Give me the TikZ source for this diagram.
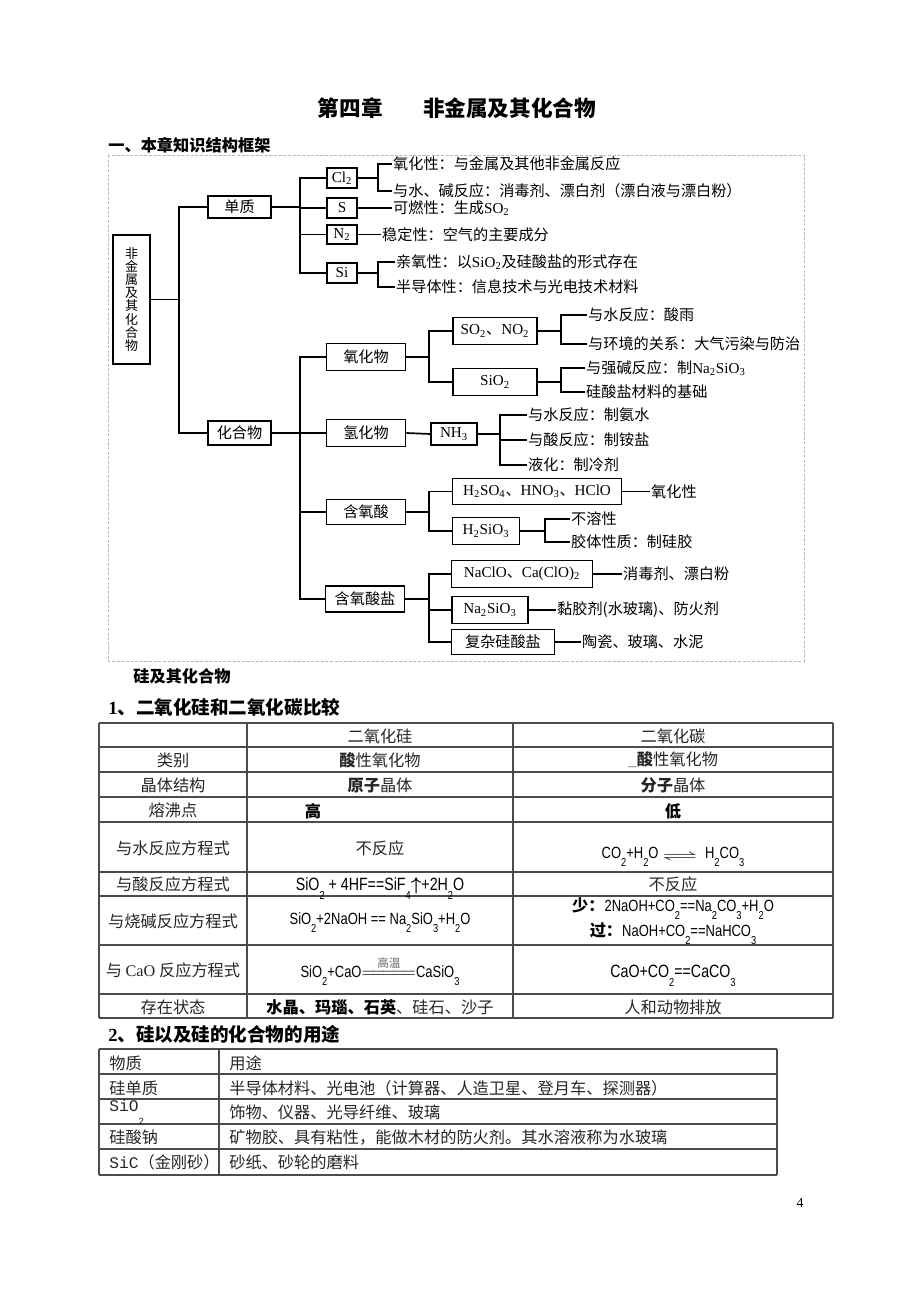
\documentclass[tikz,border=0pt]{standalone}
\usepackage{amsmath,amssymb}
\usepackage{fontspec}
\setmainfont{Liberation Serif}
\newfontfamily\cjk{Noto Sans CJK SC}
\newfontfamily\eqf{Liberation Sans}[FakeStretch=0.8]
\newfontfamily\monof{Liberation Mono}
\usetikzlibrary{calc}

\newcommand\px{0.64704pt}
\newcommand\tfont{\cjk\fontsize{9.8pt}{11pt}\selectfont}
\newcommand\rootfont{\cjk\fontsize{8.4pt}{8.5pt}\selectfont}
\newcommand\tabfont{\cjk\fontsize{10.5pt}{12pt}\selectfont}
\newcommand\lat[1]{{\rmfamily #1}}
\newcommand\subs[1]{\textsubscript{#1}}
\newcommand\dn[1]{\raisebox{-1.0ex}{\fontsize{7.5pt}{8pt}\selectfont #1}}

\tikzset{
  tbox/.style={draw, line width=1.1pt, inner sep=0pt, font=\tfont},
  leaf/.style={anchor=west, inner sep=0.6pt, font=\tfont},
  tline/.style={line width=1.1pt},
  frame/.style={gray!55, line width=0.6pt, dash pattern=on 2pt off 1pt},
  grid/.style={line width=0.85pt, black!70},
  cell/.style={inner sep=0pt, font=\tabfont, text=black!85},
  lcell/.style={cell, anchor=west},
  eq/.style={anchor=base, inner sep=0pt, font=\eqf\fontsize{10.5pt}{12pt}\selectfont},
  bigeq/.style={eq, font=\eqf\fontsize{11.5pt}{13pt}\selectfont},
}

\begin{document}
\begin{tikzpicture}[x=0.64704pt, y=-0.64704pt]

  \useasboundingbox (0,0) rectangle (920,1302);

  \newcommand\XA{179};
  \newcommand\XB{300};
  \newcommand\XC{429};

  \coordinate (trA) at (\XA,0);
  \coordinate (trB) at (\XB,0);
  \coordinate (trC) at (\XC,0);
  \coordinate (brA) at (378,0);
  \coordinate (brB) at (561,0);
  \coordinate (brC) at (500,0);
  \coordinate (brD) at (545,0);

  % headings
  \node[inner sep=0pt, font=\cjk\bfseries\fontsize{14pt}{16pt}\selectfont] (title) at (457,108)
    {第四章\hspace{26pt}非金属及其化合物};
  \node[anchor=west, inner sep=0pt, font=\cjk\bfseries\fontsize{10.5pt}{12pt}\selectfont] (secA) at (108,145)
    {一、本章知识结构框架};

  \draw[frame] (108,155) rectangle (804,661);

  % knowledge tree
  \node[tbox, minimum width=37*\px, minimum height=129*\px, align=center, font=\rootfont] (root) at (131.5,299.5)
    {非\\金\\属\\及\\其\\化\\合\\物};
  \node[tbox, minimum width=63*\px, minimum height=22*\px] (danzhi) at (239.5,207) {单质};
  \node[tbox, minimum width=63*\px, minimum height=24*\px] (huahewu) at (239.5,433) {化合物};

  \draw[tline] (root.east) -- (root.east -| trA) |- (danzhi.west);
  \draw[tline] (root.east) -- (root.east -| trA) |- (huahewu.west);

  \node[tbox, minimum width=30*\px, minimum height=20*\px] (cl2) at (342,178) {\lat{Cl\subs{2}}};
  \node[tbox, minimum width=30*\px, minimum height=20*\px] (s) at (342,208) {\lat{S}};
  \node[tbox, minimum width=30*\px, minimum height=19*\px] (n2) at (342,234.5) {\lat{N\subs{2}}};
  \node[tbox, minimum width=30*\px, minimum height=20*\px] (si) at (342,273) {\lat{Si}};

  \foreach \c in {cl2,s,n2,si}
    \draw[tline] (danzhi.east) -- (danzhi.east -| trB) |- (\c.west);

  \node[leaf] (l1) at (392,164) {氧化性：与金属及其他非金属反应};
  \node[leaf] (l2) at (392,191) {与水、碱反应：消毒剂、漂白剂（漂白液与漂白粉）};
  \node[leaf] (l3) at (392,208) {可燃性：生成\lat{SO\subs{2}}};
  \node[leaf] (l4) at (381,234.5) {稳定性：空气的主要成分};
  \node[leaf] (l5) at (395,262) {亲氧性：以\lat{SiO\subs{2}}及硅酸盐的形式存在};
  \node[leaf] (l6) at (395,287) {半导体性：信息技术与光电技术材料};

  \draw[tline] (cl2.east) -- (cl2.east -| brA) |- (l1.west);
  \draw[tline] (cl2.east) -- (cl2.east -| brA) |- (l2.west);
  \draw[tline] (s.east) -- (l3.west);
  \draw[tline] (n2.east) -- (l4.west);
  \draw[tline] (si.east) -- (si.east -| brA) |- (l5.west);
  \draw[tline] (si.east) -- (si.east -| brA) |- (l6.west);

  \node[tbox, minimum width=79*\px, minimum height=27*\px] (oxide) at (366,357) {氧化物};
  \node[tbox, minimum width=79*\px, minimum height=27*\px] (hydride) at (366,433) {氢化物};
  \node[tbox, minimum width=79*\px, minimum height=25*\px] (oxacid) at (366,512) {含氧酸};
  \node[tbox, minimum width=79*\px, minimum height=26*\px] (oxsalt) at (365,599) {含氧酸盐};

  \foreach \c in {oxide,hydride,oxacid,oxsalt}
    \draw[tline] (huahewu.east) -- (huahewu.east -| trB) |- (\c.west);

  \node[tbox, minimum width=84*\px, minimum height=27*\px] (so2) at (495,331) {\lat{SO\subs{2}}、\lat{NO\subs{2}}};
  \node[tbox, minimum width=84*\px, minimum height=27*\px] (sio2) at (495,382) {\lat{SiO\subs{2}}};
  \node[tbox, minimum width=46*\px, minimum height=22*\px] (nh3) at (454,434) {\lat{NH\subs{3}}};
  \node[tbox, minimum width=169*\px, minimum height=26*\px] (h2so4) at (537,491.5)
    {\lat{H\subs{2}SO\subs{4}}、\lat{HNO\subs{3}}、\lat{HClO}};
  \node[tbox, minimum width=67*\px, minimum height=27*\px] (h2sio3) at (486,531) {\lat{H\subs{2}SiO\subs{3}}};
  \node[tbox, minimum width=141*\px, minimum height=27*\px] (naclo) at (522,574) {\lat{NaClO}、\lat{Ca(ClO)\subs{2}}};
  \node[tbox, minimum width=76*\px, minimum height=27*\px] (na2sio3) at (490,610) {\lat{Na\subs{2}SiO\subs{3}}};
  \node[tbox, minimum width=103*\px, minimum height=25*\px] (fuza) at (503,642) {复杂硅酸盐};

  \draw[tline] (oxide.east) -- (oxide.east -| trC) |- (so2.west);
  \draw[tline] (oxide.east) -- (oxide.east -| trC) |- (sio2.west);
  \draw[tline] (hydride.east) -- (nh3.west);
  \draw[tline] (oxacid.east) -- (oxacid.east -| trC) |- (h2so4.west);
  \draw[tline] (oxacid.east) -- (oxacid.east -| trC) |- (h2sio3.west);
  \foreach \c in {naclo,na2sio3,fuza}
    \draw[tline] (oxsalt.east) -- (oxsalt.east -| trC) |- (\c.west);

  \node[leaf] (m1) at (587,315) {与水反应：酸雨};
  \node[leaf] (m2) at (587,344) {与环境的关系：大气污染与防治};
  \node[leaf] (m3) at (585,368) {与强碱反应：制\lat{Na\subs{2}SiO\subs{3}}};
  \node[leaf] (m4) at (585,392) {硅酸盐材料的基础};
  \node[leaf] (n1) at (527,415) {与水反应：制氨水};
  \node[leaf] (n2t) at (527,440) {与酸反应：制铵盐};
  \node[leaf] (n3) at (527,465) {液化：制冷剂};
  \node[leaf] (o1) at (650,491.5) {氧化性};
  \node[leaf] (o2) at (570,519) {不溶性};
  \node[leaf] (o3) at (570,542) {胶体性质：制硅胶};
  \node[leaf] (p1) at (622,574) {消毒剂、漂白粉};
  \node[leaf] (p2) at (556,610) {黏胶剂(水玻璃)、防火剂};
  \node[leaf] (p3) at (581,642) {陶瓷、玻璃、水泥};

  \draw[tline] (so2.east) -- (so2.east -| brB) |- (m1.west);
  \draw[tline] (so2.east) -- (so2.east -| brB) |- (m2.west);
  \draw[tline] (sio2.east) -- (sio2.east -| brB) |- (m3.west);
  \draw[tline] (sio2.east) -- (sio2.east -| brB) |- (m4.west);
  \foreach \c in {n1,n2t,n3}
    \draw[tline] (nh3.east) -- (nh3.east -| brC) |- (\c.west);
  \draw[tline] (h2so4.east) -- (o1.west);
  \draw[tline] (h2sio3.east) -- (h2sio3.east -| brD) |- (o2.west);
  \draw[tline] (h2sio3.east) -- (h2sio3.east -| brD) |- (o3.west);
  \draw[tline] (naclo.east) -- (p1.west);
  \draw[tline] (na2sio3.east) -- (p2.west);
  \draw[tline] (fuza.east) -- (p3.west);

  % silicon section
  \node[anchor=west, inner sep=0pt, font=\cjk\bfseries\fontsize{10.5pt}{12pt}\selectfont] (secB) at (133,676)
    {硅及其化合物};
  \node[anchor=west, inner sep=0pt, font=\cjk\bfseries\fontsize{12pt}{14pt}\selectfont] (secC) at (108,707)
    {\lat{\bfseries 1}、二氧化硅和二氧化碳比较};

  \foreach \y in {723,747,772,797,822,872,896,945,994,1018}
    \draw[grid] (99,\y) -- (833,\y);
  \foreach \x in {99,247,513,833}
    \draw[grid] (\x,723) -- (\x,1018);

  \node[cell] (h2) at (380,736) {二氧化硅};
  \node[cell] (h3) at (673,736) {二氧化碳};
  \node[cell] (a1) at (173,760) {类别};
  \node[cell] (a2) at (380,760) {{\bfseries 酸}性氧化物};
  \node[cell] (a3) at (673,760) {\textcolor{black!45}{\_}{\bfseries 酸}性氧化物};
  \node[cell] (b1) at (173,785) {晶体结构};
  \node[cell] (b2) at (380,785) {{\bfseries 原子}晶体};
  \node[cell] (b3) at (673,785) {{\bfseries 分子}晶体};
  \node[cell] (c1) at (173,810) {熔沸点};
  \node[cell, text=black] (c2) at (313,811) {\bfseries 高};
  \node[cell, text=black] (c3) at (673,811) {\bfseries 低};
  \node[cell] (d1) at (173,848) {与水反应方程式};
  \node[cell] (d2) at (380,848) {不反应};
  \node[eq] (d3) at (673,858) {CO\dn{2}+H\dn{2}O \raisebox{-0.3ex}{\scalebox{2.2}[1]{$\rightleftharpoons$}}\ \ H\dn{2}CO\dn{3}};
  \node[cell] (e1) at (173,884) {与酸反应方程式};
  \node[bigeq] (e2) at (380,890) {SiO\dn{2} + 4HF==SiF\dn{4}$\boldsymbol{\uparrow}$+2H\dn{2}O};
  \node[cell] (e3) at (673,884) {不反应};
  \node[cell] (f1) at (173,921) {与烧碱反应方程式};
  \node[eq] (f2) at (380,924) {SiO\dn{2}+2NaOH == Na\dn{2}SiO\dn{3}+H\dn{2}O};
  \node[eq] (f3) at (673,911) {{\cjk\bfseries 少：}2NaOH+CO\dn{2}==Na\dn{2}CO\dn{3}+H\dn{2}O};
  \node[eq] (f4) at (673,936) {{\cjk\bfseries 过：}NaOH+CO\dn{2}==NaHCO\dn{3}};
  \node[cell] (g1) at (173,970) {与 \lat{CaO} 反应方程式};
  \node[eq] (g2) at (380,977)
    {SiO\dn{2}+CaO$\overset{\mbox{\cjk\fontsize{7.5pt}{8pt}\selectfont\color{black!60}高温}}{=\joinrel=\joinrel=\joinrel=\joinrel=}$CaSiO\dn{3}};
  \node[bigeq] (g3) at (673,977) {CaO+CO\dn{2}==CaCO\dn{3}};
  \node[cell] (k1) at (173,1007) {存在状态};
  \node[cell] (k2) at (380,1007) {{\bfseries\color{black} 水晶、玛瑙、石英}、硅石、沙子};
  \node[cell] (k3) at (673,1007) {人和动物排放};

  \node[anchor=west, inner sep=0pt, font=\cjk\bfseries\fontsize{12pt}{14pt}\selectfont] (secD) at (108,1034)
    {\lat{\bfseries 2}、硅以及硅的化合物的用途};

  \foreach \y in {1049,1074,1099,1124,1149,1175}
    \draw[grid] (99,\y) -- (777,\y);
  \foreach \x in {99,219,777}
    \draw[grid] (\x,1049) -- (\x,1175);

  \node[lcell] (u1) at (109,1063) {物质};
  \node[lcell] (u2) at (229,1063) {用途};
  \node[lcell] (v1) at (109,1088) {硅单质};
  \node[lcell] (v2) at (229,1088) {半导体材料、光电池（计算器、人造卫星、登月车、探测器）};
  \node[lcell] (w1) at (109,1112) {{\monof SiO}\raisebox{-1.4ex}{\monof\fontsize{6pt}{6pt}\selectfont 2}};
  \node[lcell] (w2) at (229,1112) {饰物、仪器、光导纤维、玻璃};
  \node[lcell] (x1) at (109,1137) {硅酸钠};
  \node[lcell] (x2) at (229,1137) {矿物胶、具有粘性，能做木材的防火剂。其水溶液称为水玻璃};
  \node[lcell] (z1) at (109,1162) {{\monof SiC}（金刚砂）};
  \node[lcell] (z2) at (229,1162) {砂纸、砂轮的磨料};

  \node[inner sep=0pt, font=\rmfamily\fontsize{9pt}{10pt}\selectfont] (pageno) at (800,1203) {4};

\end{tikzpicture}
\end{document}
